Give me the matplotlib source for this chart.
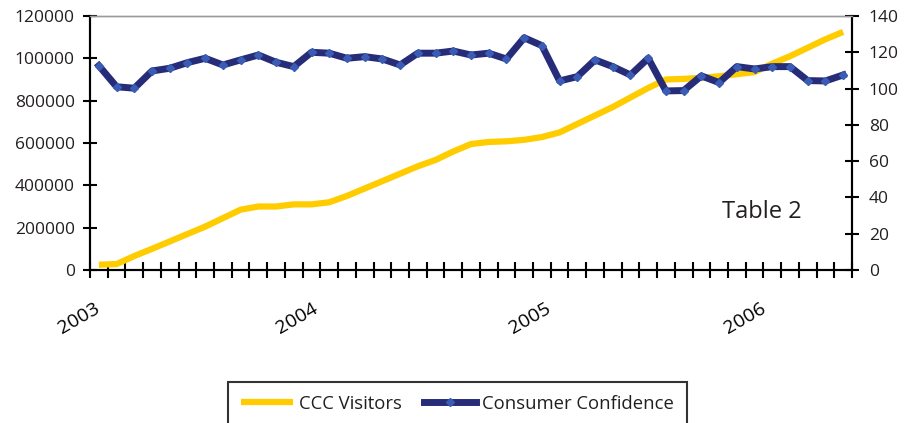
import matplotlib.pyplot as plt
import matplotlib.transforms as mtransforms
import numpy as np

plt.rcParams['font.family'] = ['Open Sans', 'DejaVu Sans']

# monthly data, Jan 2003 .. Jul 2006
visitors = [25000, 28000, 66000, 100000, 135000, 170000, 205000, 245000, 285000,
            300000, 300000, 310000, 310000, 320000, 350000, 385000, 420000, 455000,
            490000, 520000, 560000, 595000, 605000, 608000, 615000, 628000, 650000,
            690000, 730000, 770000, 815000, 860000, 900000, 903000, 908000, 915000,
            925000, 935000, 975000, 1010000, 1050000, 1090000, 1125000]
confidence = [112.6, 101.0, 100.2, 109.7, 111.2, 114.3, 116.7, 113.0, 115.8, 118.5,
              114.5, 112.1, 120.0, 119.5, 116.7, 117.6, 116.3, 113.0, 119.5, 119.5,
              120.7, 118.5, 119.5, 116.3, 128.0, 123.7, 104.2, 106.6, 115.8, 112.1,
              107.5, 116.7, 98.7, 98.9, 107.0, 103.3, 112.1, 110.8, 112.1, 112.1,
              104.4, 104.2, 107.5]
left_ticks = [0, 200000, 400000, 600000, 800000, 1000000, 1200000]
left_labels = ['0', '200000', '400000', '600000', '800000', '100000', '120000']
right_ticks = [0, 20, 40, 60, 80, 100, 120, 140]
year_labels = ['2003', '2004', '2005', '2006']
year_pos = [-1.14, 11.16, 24.35, 36.47]

txt = '#231f20'
yellow = '#ffcc00'
navy = '#262c78'
marker_blue = '#3a5cb4'

months = np.arange(len(visitors))

fig = plt.figure(figsize=(9.05, 4.23), dpi=100)
ax = fig.add_axes([90 / 905, 1 - 270 / 423, 762 / 905, 254 / 423])
ax2 = ax.twinx()

ln1, = ax.plot(months, visitors, color=yellow, lw=4.5, solid_capstyle='butt',
               label='CCC Visitors')
ln2, = ax2.plot(months, confidence, color=navy, lw=5, marker='D', ms=4.5,
                mfc=marker_blue, mec=marker_blue, label='Consumer Confidence')

ax.set_xlim(-0.5, len(visitors) - 0.5)
ax.set_ylim(0, 1200000)
ax2.set_ylim(0, 140)

ax.set_yticks(left_ticks, left_labels)
ax2.set_yticks(right_ticks)
ax.set_xticks(np.arange(-0.5, len(visitors), 1))
ax.set_xticklabels([])

ax.tick_params(axis='y', direction='inout', length=10, width=1.5, pad=6,
               labelsize=12.5, labelcolor=txt)
ax2.tick_params(axis='y', direction='inout', length=10, width=1.5, pad=7,
                labelsize=12.5, labelcolor=txt)
ax.tick_params(axis='x', direction='inout', length=12, width=1.5)

for a in (ax, ax2):
    for s in ('left', 'right', 'bottom'):
        a.spines[s].set_linewidth(1.5)
    a.spines['top'].set_color('#9a9a9a')
    a.spines['top'].set_linewidth(1)

trans = mtransforms.blended_transform_factory(ax.transData, ax.transAxes)
for lab, p in zip(year_labels, year_pos):
    ax.text(p, -0.189, lab, transform=trans, rotation=30, ha='center',
            va='center', fontsize=14, color='black')

fig.text(762 / 905, 1 - 212 / 423, 'Table 2', ha='center', va='center',
         fontsize=17, color=txt)

leg = fig.legend([ln1, ln2], ['CCC Visitors', 'Consumer Confidence'],
                 loc='upper left', bbox_to_anchor=(228 / 905, 1 - 382 / 423),
                 ncol=2, numpoints=1, handlelength=2.8, handletextpad=0.35,
                 columnspacing=1.2, borderpad=0.7, borderaxespad=0,
                 fancybox=False, edgecolor='black', fontsize=13.3)
leg.get_frame().set_linewidth(1.5)
for t in leg.get_texts():
    t.set_color(txt)

fig.savefig('out.png', dpi=100)
